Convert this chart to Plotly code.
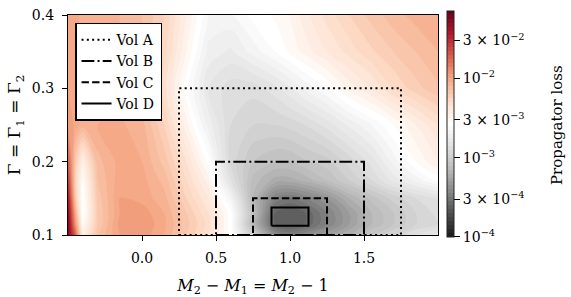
import plotly.graph_objects as go

# ---- data ----
x_vals = [-0.5, -0.45, -0.4, -0.3, -0.15, 0.0, 0.15, 0.3, 0.45, 0.6, 0.75,
          0.9, 1.0, 1.1, 1.25, 1.4, 1.55, 1.7, 1.85, 2.0]
y_vals = [0.1, 0.115, 0.13, 0.15, 0.175, 0.2, 0.25, 0.3, 0.35, 0.4]

# log10(propagator loss), one row per y value (bottom to top)
log10_loss = [
    [-1.25, -1.75, -2.45, -2.15, -2.00, -1.97, -2.05, -2.20, -2.35, -2.58, -3.00, -3.40, -3.45, -3.40, -3.30, -3.20, -3.05, -2.95, -2.85, -2.78],
    [-1.25, -1.95, -2.55, -2.20, -1.98, -1.95, -2.04, -2.18, -2.32, -2.58, -3.15, -3.60, -3.65, -3.60, -3.45, -3.30, -3.15, -3.05, -2.95, -2.90],
    [-1.30, -2.05, -2.60, -2.20, -2.00, -1.97, -2.05, -2.20, -2.35, -2.58, -3.10, -3.60, -3.65, -3.60, -3.45, -3.30, -3.15, -3.05, -2.95, -2.88],
    [-1.40, -2.20, -2.60, -2.18, -2.00, -2.02, -2.08, -2.25, -2.40, -2.68, -3.15, -3.45, -3.50, -3.45, -3.35, -3.20, -3.08, -2.98, -2.90, -2.85],
    [-1.55, -2.25, -2.55, -2.15, -2.02, -2.03, -2.12, -2.30, -2.48, -2.85, -3.12, -3.22, -3.22, -3.18, -3.10, -3.00, -2.90, -2.78, -2.68, -2.58],
    [-1.70, -2.20, -2.45, -2.12, -2.03, -2.05, -2.17, -2.35, -2.57, -2.92, -3.05, -3.10, -3.10, -3.06, -3.02, -2.93, -2.83, -2.68, -2.55, -2.45],
    [-1.95, -2.02, -2.08, -2.05, -2.04, -2.08, -2.25, -2.48, -2.72, -2.90, -2.95, -2.95, -2.93, -2.90, -2.83, -2.74, -2.65, -2.55, -2.45, -2.35],
    [-2.00, -2.03, -2.07, -2.07, -2.08, -2.15, -2.33, -2.58, -2.80, -2.88, -2.88, -2.82, -2.76, -2.69, -2.60, -2.48, -2.40, -2.30, -2.22, -2.16],
    [-2.00, -2.03, -2.07, -2.08, -2.10, -2.15, -2.28, -2.50, -2.72, -2.76, -2.68, -2.60, -2.54, -2.48, -2.40, -2.33, -2.26, -2.20, -2.15, -2.10],
    [-2.00, -2.03, -2.07, -2.08, -2.10, -2.15, -2.25, -2.45, -2.65, -2.66, -2.58, -2.54, -2.50, -2.42, -2.33, -2.25, -2.18, -2.12, -2.08, -2.05],
]

# search volumes (rectangles)
vol_names = ["Vol A", "Vol B", "Vol C", "Vol D"]
vol_x0 = [0.25, 0.5, 0.75, 0.875]
vol_x1 = [1.75, 1.5, 1.25, 1.125]
vol_y0 = [0.1, 0.1, 0.1, 0.1125]
vol_y1 = [0.3, 0.2, 0.15, 0.1375]

cbar_tickvals = [-4.0, -3.5229, -3.0, -2.5229, -2.0, -1.5229]
cbar_ticktext = ["10<sup>−4</sup>", "3 × 10<sup>−4</sup>", "10<sup>−3</sup>",
                 "3 × 10<sup>−3</sup>", "10<sup>−2</sup>", "3 × 10<sup>−2</sup>"]

# ---- styling ----
FONT = "DejaVu Serif"
rdgy_r = ["rgb(26,26,26)", "rgb(77,77,77)", "rgb(135,135,135)", "rgb(186,186,186)",
          "rgb(224,224,224)", "rgb(255,255,255)", "rgb(253,219,199)", "rgb(244,165,130)",
          "rgb(214,96,77)", "rgb(178,24,43)", "rgb(103,0,31)"]
colorscale = [[i / (len(rdgy_r) - 1), c] for i, c in enumerate(rdgy_r)]
ZMIN, ZMAX = -4.0, -1.15
dashes = ["2px,3.3px", "12.8px,3.2px,2px,3.2px", "7.4px,3.2px", "solid"]

fig = go.Figure()
fig.add_trace(go.Contour(
    x=x_vals, y=y_vals, z=log10_loss,
    colorscale=colorscale, zmin=ZMIN, zmax=ZMAX, zauto=False,
    autocontour=False,
    contours=dict(start=ZMIN, end=ZMAX, size=0.05, coloring="fill", showlines=False),
    line=dict(width=0),
    showlegend=False,
    colorbar=dict(
        x=1.0235, xanchor="left", xpad=0, ypad=0,
        y=0.505, yanchor="middle", lenmode="pixels", len=226,
        thickness=7, outlinewidth=1, outlinecolor="#222",
        tickmode="array", tickvals=cbar_tickvals, ticktext=cbar_ticktext,
        ticks="outside", ticklen=6, tickwidth=1, tickcolor="black",
        tickfont=dict(family=FONT, size=14, color="black"),
    ),
))

for name, x0, x1, y0, y1, d in zip(vol_names, vol_x0, vol_x1, vol_y0, vol_y1, dashes):
    fig.add_trace(go.Scatter(
        x=[x0, x1, x1, x0, x0], y=[y0, y0, y1, y1, y0],
        mode="lines", name=name,
        line=dict(color="black", width=2, dash=d),
    ))

axis_common = dict(showline=True, mirror=True, linecolor="black", linewidth=1.2,
                   ticks="outside", ticklen=5, tickwidth=1, tickcolor="black",
                   showgrid=False, zeroline=False, automargin=False,
                   tickfont=dict(family=FONT, size=14, color="black"))

fig.update_layout(
    width=571, height=297,
    margin=dict(l=68, r=133, t=15, b=62, autoexpand=False),
    paper_bgcolor="white", plot_bgcolor="white",
    font=dict(family=FONT, size=14, color="black"),
    xaxis=dict(range=[-0.5, 2.0], tickvals=[0.0, 0.5, 1.0, 1.5], tickformat=".1f",
               ticklabelstandoff=5,
               title=dict(text="<i>M</i><sub>2</sub> − <i>M</i><sub>1</sub> = <i>M</i><sub>2</sub> − 1",
                          standoff=14, font=dict(family=FONT, size=16)),
               **axis_common),
    yaxis=dict(range=[0.1, 0.4], tickvals=[0.1, 0.2, 0.3, 0.4], tickformat=".1f",
               ticklabelstandoff=5,
               title=dict(text="Γ = Γ<sub>1</sub> = Γ<sub>2</sub>", standoff=6,
                          font=dict(family=FONT, size=17)),
               **axis_common),
    legend=dict(x=0.019, y=0.965, xanchor="left", yanchor="top",
                bgcolor="white", bordercolor="black", borderwidth=1.5,
                font=dict(family=FONT, size=14, color="black"),
                tracegroupgap=0, itemwidth=30),
    annotations=[dict(text="Propagator loss", xref="paper", yref="paper",
                      x=1.3216, y=0.5, xanchor="center", yanchor="middle",
                      textangle=-90, showarrow=False,
                      font=dict(family=FONT, size=15, color="black"))],
)

fig.write_html("out.html")
